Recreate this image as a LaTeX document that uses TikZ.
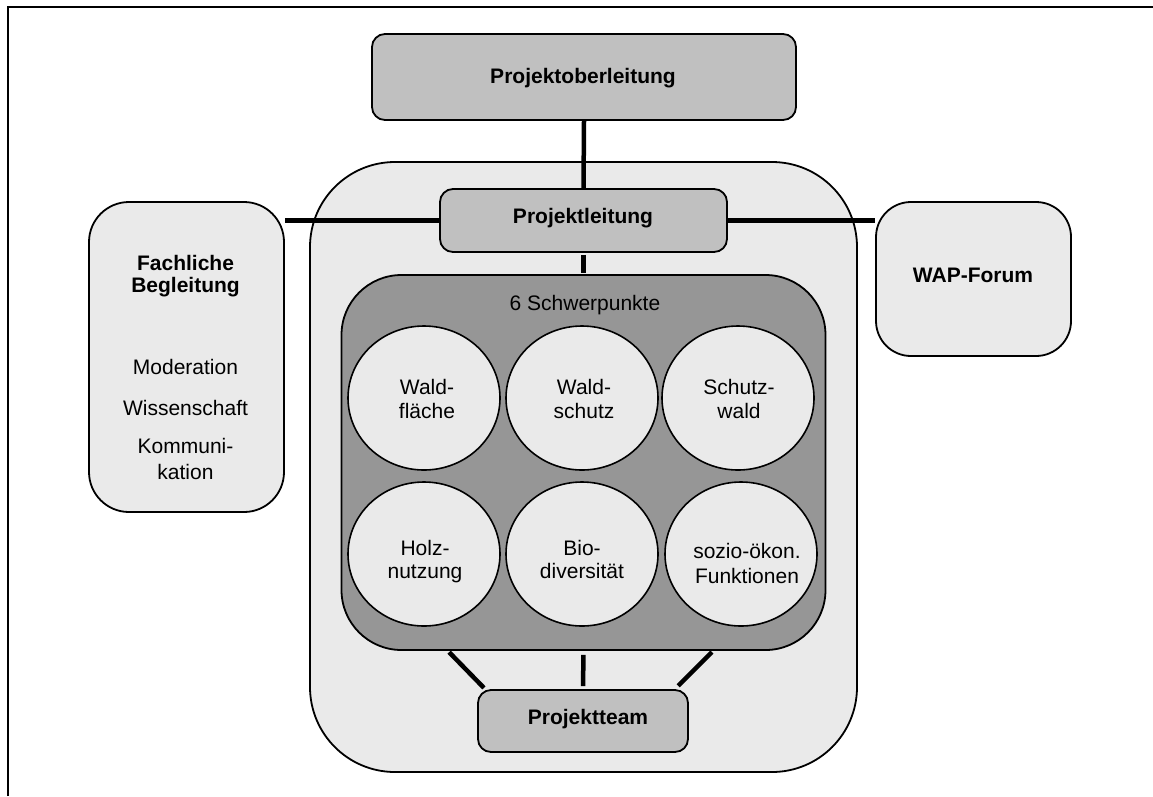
\documentclass[tikz,border=0pt]{standalone}
\usepackage{fontspec}
\setmainfont{Liberation Sans}
\usetikzlibrary{shapes.geometric}
\definecolor{boxgray}{HTML}{C0C0C0}
\definecolor{lightgray}{HTML}{EAEAEA}
\definecolor{darkgray}{HTML}{969696}
\tikzset{
  panel/.style={draw=black, line width=1.8pt, rounded corners=#1, inner sep=0pt},
  head/.style={panel=13pt, fill=boxgray},
  topic/.style={draw=black, line width=1.6pt, fill=lightgray, ellipse,
    minimum width=152pt, minimum height=144pt, inner sep=0pt},
  txt/.style={inner sep=0pt, anchor=base, font=\fontsize{21}{24}\selectfont},
  btxt/.style={txt, font=\fontsize{21}{24}\selectfont\bfseries},
  conn/.style={line width=4.5pt},
}
\begin{document}
\begin{tikzpicture}[x=1pt, y=-1pt]
\useasboundingbox (0,0) rectangle (1153,796);
% page frame (only top and left edges fall inside the page)
\draw[line width=1.8pt] (8,796) -- (8,7) -- (1153,7);

% boxes
\node[head, minimum width=424pt, minimum height=86pt] (top) at (584,77) {};
\node[panel=85pt, fill=lightgray, minimum width=547pt, minimum height=610pt] (outer) at (583.5,467) {};
\node[panel=40pt, fill=lightgray, minimum width=195pt, minimum height=310pt] (fach) at (186.5,357) {};
\node[panel=35pt, fill=lightgray, minimum width=195pt, minimum height=154pt] (wap) at (973.5,279) {};
\node[head, minimum width=287pt, minimum height=63pt] (lead) at (583.5,220.5) {};
\node[panel=60pt, fill=darkgray, minimum width=484pt, minimum height=375pt] (sp) at (583.5,462.5) {};
\node[head, minimum width=210pt, minimum height=62pt] (team) at (583,721) {};

% six focus topics
\node[topic] (c1) at (424,398) {};
\node[topic] (c2) at (582,398) {};
\node[topic] (c3) at (738,398) {};
\node[topic] (c4) at (424,554) {};
\node[topic] (c5) at (582,554) {};
\node[topic] (c6) at (741,554) {};

% connectors
\draw[conn] (top.south) -- (lead.north);
\draw[conn] (lead.west) -- (lead.west -| fach.east);
\draw[conn] (lead.east) -- (lead.east -| wap.west);
\draw[conn, shorten <=2pt, shorten >=1pt] (lead.south) -- (sp.north);
\coordinate (spL) at (447,650);
\coordinate (tmL) at (486,690);
\coordinate (spR) at (714,650);
\coordinate (tmR) at (674,690);
\draw[conn, shorten <=3pt, shorten >=3pt] (spL) -- (tmL);
\draw[conn, shorten <=4pt, shorten >=3pt] (sp.south) -- (team.north);
\draw[conn, shorten <=3pt, shorten >=6pt] (spR) -- (tmR);

% labels
\node[btxt] (topT) at (583,83) {Projektoberleitung};
\node[btxt] (leadT) at (583,223) {Projektleitung};
\node[btxt] (teamT) at (588,724) {Projektteam};
\node[btxt] (wapT) at (973,282) {WAP-Forum};
\node[btxt] (fachA) at (185.5,270) {Fachliche};
\node[btxt] (fachB) at (185.5,292) {Begleitung};
\node[txt] (fachC) at (185.5,374) {Moderation};
\node[txt] (fachD) at (185.5,415) {Wissenschaft};
\node[txt] (fachE) at (185.5,453) {Kommuni-};
\node[txt] (fachF) at (185.5,479) {kation};
\node[txt] (spT) at (585,310) {6 Schwerpunkte};

\node[txt] (c1a) at (427,394) {Wald-};
\node[txt] (c1b) at (427,418) {fläche};
\node[txt] (c2a) at (584,394) {Wald-};
\node[txt] (c2b) at (584,418) {schutz};
\node[txt] (c3a) at (739,394) {Schutz-};
\node[txt] (c3b) at (739,418) {wald};
\node[txt] (c4a) at (425,555) {Holz-};
\node[txt] (c4b) at (425,578) {nutzung};
\node[txt] (c5a) at (582,555) {Bio-};
\node[txt] (c5b) at (582,578) {diversität};
\node[txt] (c6a) at (747,558) {sozio-ökon.};
\node[txt] (c6b) at (747,583) {Funktionen};
\end{tikzpicture}
\end{document}
